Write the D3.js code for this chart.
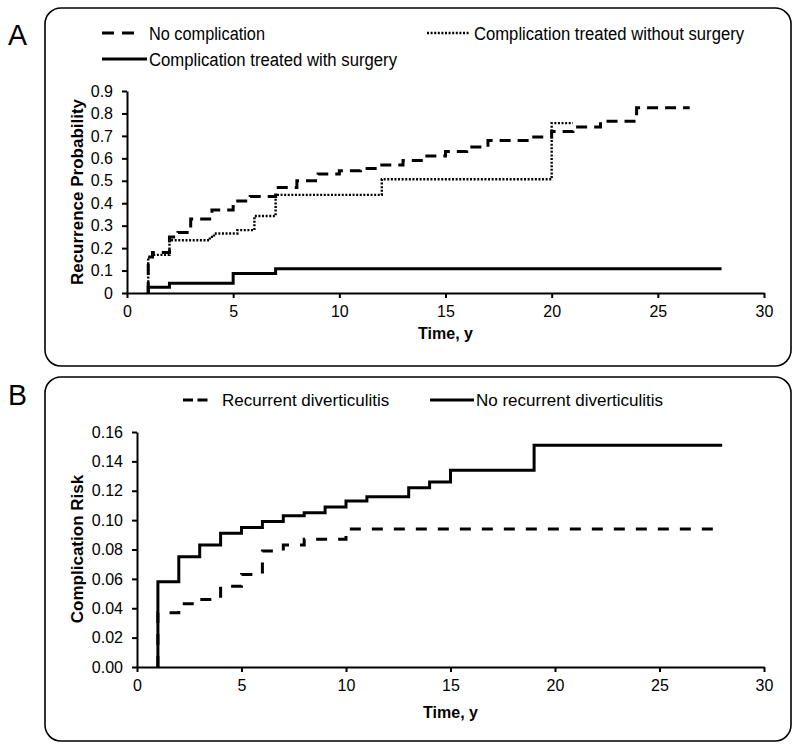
<!DOCTYPE html>
<html>
<head>
<meta charset="utf-8">
<script src="https://cdn.jsdelivr.net/npm/d3@7"></script>
<style>
  html, body { margin: 0; padding: 0; background: #fff; }
  svg { display: block; }
  text { font-family: "Liberation Sans", Arial, sans-serif; fill: #000; }
</style>
</head>
<body>
<svg id="chart" width="800" height="749"></svg>
<script>
// ---------- DATA ----------
// Panel A: recurrence probability (step points [time, value]); last point = end of line
const noComplication = [[1,0],[1,0.16],[1.2,0.18],[2,0.25],[2.4,0.27],[3,0.33],[4,0.37],[5,0.41],[5.8,0.43],[7,0.47],[8,0.50],[9,0.53],[10,0.545],[11,0.555],[12,0.57],[13,0.59],[14,0.61],[15,0.63],[16,0.65],[17,0.68],[19,0.695],[20,0.72],[21,0.74],[22.3,0.765],[24,0.825],[26.5,0.825]];
const compNoSurgery = [[1,0],[1,0.16],[1.2,0.17],[2,0.235],[3.9,0.25],[4.1,0.265],[5.2,0.28],[6,0.343],[7,0.437],[12,0.507],[20,0.757],[21,0.757]];
const compSurgery = [[1,0],[1,0.026],[2,0.043],[5,0.087],[7,0.108],[28,0.108]];
const legendA = ["No complication", "Complication treated without surgery", "Complication treated with surgery"];
const xTicks = [0,5,10,15,20,25,30];
const yTicksA = [0,0.1,0.2,0.3,0.4,0.5,0.6,0.7,0.8,0.9];
const yTickLabelsA = ["0","0.1","0.2","0.3","0.4","0.5","0.6","0.7","0.8","0.9"];

// Panel B: complication risk
const recurrent = [[1,0],[1,0.037],[2,0.043],[3,0.046],[4,0.055],[5,0.063],[6,0.079],[7,0.083],[8,0.087],[10,0.094],[28,0.094]];
const noRecurrent = [[1,0],[1,0.058],[2,0.075],[3,0.083],[4,0.091],[5,0.095],[6,0.099],[7,0.103],[8,0.105],[9,0.109],[10,0.113],[11,0.116],[13,0.122],[14,0.126],[15,0.134],[19,0.151],[28,0.151]];
const legendB = ["Recurrent diverticulitis", "No recurrent diverticulitis"];
const yTicksB = [0,0.02,0.04,0.06,0.08,0.10,0.12,0.14,0.16];
const yTickLabelsB = ["0.00","0.02","0.04","0.06","0.08","0.10","0.12","0.14","0.16"];

// ---------- DRAW ----------
const svg = d3.select("#chart");

function frame(x, y, w, h, label, ly) {
  svg.append("rect").attr("x", x).attr("y", y).attr("width", w).attr("height", h)
    .attr("rx", 16).attr("ry", 16).attr("fill", "none").attr("stroke", "#000").attr("stroke-width", 1.6);
  svg.append("text").attr("x", 8).attr("y", ly).text(label)
    .attr("textLength", 19).attr("lengthAdjust", "spacingAndGlyphs")
    .style("font-size", "30px");
}

function axes(x, y, yTicks, yLabels, yTitle, ytx, ytyMid, xty) {
  const gx = svg.append("g").attr("transform", `translate(0,${y.range()[0]})`)
    .call(d3.axisBottom(x).tickValues(xTicks).tickSize(5).tickSizeOuter(0).tickPadding(8));
  const gy = svg.append("g").attr("transform", `translate(${x.range()[0]},0)`)
    .call(d3.axisLeft(y).tickValues(yTicks).tickFormat((d, i) => yLabels[i]).tickSize(5).tickSizeOuter(0).tickPadding(9));
  [gx, gy].forEach(g => {
    g.select(".domain").attr("stroke", "#000").attr("stroke-width", 2);
    g.selectAll(".tick line").attr("stroke", "#000").attr("stroke-width", 2);
    g.selectAll(".tick text").style("font-size", "16px").style("font-family", "'Liberation Sans', Arial, sans-serif").attr("fill", "#000");
  });
  svg.append("text").attr("x", (x.range()[0] + x.range()[1]) / 2).attr("y", xty)
    .attr("text-anchor", "middle").style("font-weight", "bold").style("font-size", "16px").text("Time, y");
  svg.append("text").attr("transform", `translate(${ytx},${ytyMid}) rotate(-90)`)
    .attr("text-anchor", "middle").style("font-weight", "bold").style("font-size", "17px").text(yTitle);
}

function stepLine(data, x, y, dash, width) {
  const line = d3.line().x(d => x(d[0])).y(d => y(d[1])).curve(d3.curveStepAfter);
  svg.append("path").datum(data).attr("d", line).attr("fill", "none")
    .attr("stroke", "#000").attr("stroke-width", width)
    .attr("stroke-dasharray", dash);
}

// ----- Panel A -----
frame(45, 8, 746, 358, "A", 45);
const xA = d3.scaleLinear().domain([0, 30]).range([127, 764]);
const yA = d3.scaleLinear().domain([0, 0.9]).range([293, 91]);
axes(xA, yA, yTicksA, yTickLabelsA, "Recurrence Probability", 83, 192, 339);
stepLine(compSurgery, xA, yA, null, 3);
stepLine(compNoSurgery, xA, yA, "2,1.6", 2.4);
stepLine(noComplication, xA, yA, "11,7", 3);

// legend A (condensed look)
const legA = [
  {x1: 102, x2: 136, y: 33, dash: "12,8", w: 3, tx: 149, len: 116, label: legendA[0]},
  {x1: 427, x2: 470, y: 33, dash: "2,1.6", w: 2.4, tx: 474, len: 270, label: legendA[1]},
  {x1: 102, x2: 147, y: 59, dash: null, w: 3, tx: 149, len: 248, label: legendA[2]}
];
legA.forEach(d => {
  svg.append("line").attr("x1", d.x1).attr("x2", d.x2).attr("y1", d.y).attr("y2", d.y)
    .attr("stroke", "#000").attr("stroke-width", d.w).attr("stroke-dasharray", d.dash);
  svg.append("text").attr("x", d.tx).attr("y", d.y + 6.5).text(d.label)
    .attr("textLength", d.len).attr("lengthAdjust", "spacingAndGlyphs")
    .style("font-size", "18px");
});

// ----- Panel B -----
frame(45, 377, 746, 364, "B", 405);
const xB = d3.scaleLinear().domain([0, 30]).range([137, 764]);
const yB = d3.scaleLinear().domain([0, 0.16]).range([667, 432]);
axes(xB, yB, yTicksB, yTickLabelsB, "Complication Risk", 83, 549, 718);
stepLine(recurrent, xB, yB, "11,11", 3);
stepLine(noRecurrent, xB, yB, null, 3);

const legB = [
  {x1: 183, x2: 208, y: 400, dash: "10,4.5", tx: 222, label: legendB[0]},
  {x1: 430, x2: 474, y: 400, dash: null, tx: 476, label: legendB[1]}
];
legB.forEach(d => {
  svg.append("line").attr("x1", d.x1).attr("x2", d.x2).attr("y1", d.y).attr("y2", d.y)
    .attr("stroke", "#000").attr("stroke-width", 3).attr("stroke-dasharray", d.dash);
  svg.append("text").attr("x", d.tx).attr("y", d.y + 6).text(d.label).style("font-size", "17px");
});
</script>
</body>
</html>
